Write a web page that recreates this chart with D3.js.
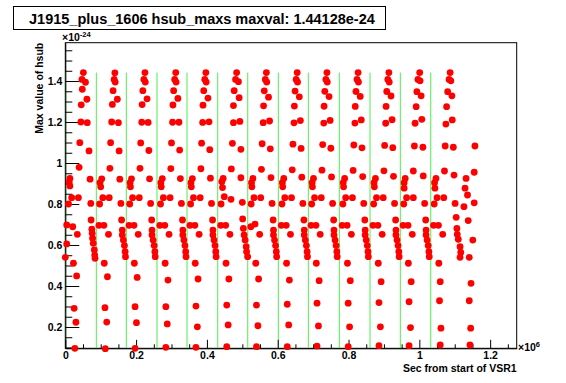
<!DOCTYPE html>
<html><head><meta charset="utf-8">
<script src="https://cdn.jsdelivr.net/npm/d3@7"></script>
<style>body{margin:0;background:#fff}svg{display:block}</style>
</head><body>
<svg id="c" width="566" height="383"></svg>
<script>
const titleText = "J1915_plus_1606 hsub_maxs maxval: 1.44128e-24";
const xTitle = "Sec from start of VSR1";
const yTitle = "Max value of hsub";
const xMajor = [0, 0.2, 0.4, 0.6, 0.8, 1.0, 1.2];
const xLabels = ["0", "0.2", "0.4", "0.6", "0.8", "1", "1.2"];
const yMajor = [0.2, 0.4, 0.6, 0.8, 1.0, 1.2, 1.4];
const yLabels = ["0.2", "0.4", "0.6", "0.8", "1", "1.2", "1.4"];
const maxval = 1.44128;
// day boundary lines (x in units of 1e6 s)
const dayLines = [0.0011, 0.0876, 0.1723, 0.2590, 0.3438, 0.4305, 0.5153, 0.6017, 0.6864, 0.7740, 0.8607, 0.9463, 1.0322];
// points [sec/1e6, value/1e-24], one array per day
const day00 = [[.004,.605],[.000,.540]];
const day01 = [[.051,1.441],[.047,1.408],[.057,1.394],[.048,1.360],[.061,1.311],[.045,1.284],[.044,1.200],[.062,1.197],[.041,1.099],[.067,1.059],[.039,.979],[.013,.925],[.070,.921],[.011,.907],[.013,.888],[.018,.831],[.037,.831],[.009,.800],[.072,.803],[.004,.698],[.021,.689],[.073,.722],[.034,.652],[.075,.677],[.076,.657],[.077,.633],[.079,.608],[.082,.576],[.083,.551],[.084,.535],[.023,.511],[.032,.449],[.025,.291],[.030,.223],[.027,.096]];
const day02 = [[.140,1.440],[.138,1.408],[.141,1.395],[.135,1.353],[.147,1.311],[.133,1.286],[.131,1.200],[.150,1.197],[.128,1.099],[.152,1.059],[.126,.974],[.103,.923],[.154,.921],[.098,.904],[.100,.884],[.106,.831],[.124,.831],[.097,.800],[.157,.803],[.095,.696],[.109,.696],[.159,.722],[.122,.652],[.161,.673],[.161,.649],[.164,.624],[.167,.597],[.169,.567],[.170,.543],[.110,.511],[.119,.445],[.112,.294],[.117,.224],[.113,.094]];
const day03 = [[.225,1.441],[.222,1.408],[.226,1.395],[.219,1.353],[.231,1.313],[.217,1.285],[.216,1.199],[.234,1.198],[.213,1.098],[.236,1.061],[.211,.974],[.187,.923],[.238,.923],[.183,.904],[.184,.884],[.190,.831],[.209,.831],[.182,.800],[.241,.803],[.180,.696],[.194,.696],[.244,.722],[.206,.652],[.245,.673],[.245,.649],[.248,.624],[.251,.597],[.253,.567],[.254,.543],[.195,.511],[.203,.442],[.197,.299],[.201,.221],[.197,.096]];
const day04 = [[.312,1.441],[.309,1.408],[.313,1.395],[.306,1.353],[.318,1.315],[.304,1.283],[.303,1.199],[.321,1.199],[.300,1.098],[.323,1.063],[.298,.973],[.274,.924],[.325,.924],[.270,.904],[.271,.884],[.277,.831],[.296,.831],[.269,.800],[.328,.803],[.267,.696],[.281,.696],[.331,.722],[.293,.652],[.332,.673],[.332,.649],[.335,.624],[.338,.597],[.340,.567],[.341,.543],[.282,.511],[.290,.429],[.284,.299],[.288,.215],[.284,.101]];
const day05 = [[.397,1.441],[.394,1.408],[.398,1.395],[.391,1.353],[.403,1.317],[.389,1.282],[.388,1.198],[.406,1.201],[.385,1.097],[.408,1.065],[.383,.972],[.359,.924],[.410,.926],[.355,.904],[.356,.884],[.362,.831],[.381,.831],[.354,.800],[.413,.803],[.352,.696],[.366,.696],[.416,.722],[.378,.652],[.417,.673],[.417,.649],[.420,.624],[.423,.597],[.425,.567],[.426,.543],[.367,.511],[.375,.434],[.369,.302],[.373,.201],[.369,.101]];
const day06 = [[.484,1.441],[.481,1.408],[.489,1.397],[.477,1.353],[.491,1.319],[.475,1.280],[.475,1.197],[.493,1.203],[.472,1.096],[.496,1.067],[.469,.971],[.446,.925],[.496,.928],[.442,.909],[.444,.880],[.449,.836],[.468,.823],[.440,.800],[.500,.808],[.439,.696],[.453,.696],[.501,.727],[.465,.652],[.503,.681],[.505,.649],[.508,.624],[.511,.592],[.512,.567],[.515,.543],[.454,.511],[.462,.434],[.456,.307],[.460,.210],[.456,.104]];
const day07 = [[.568,1.441],[.565,1.408],[.569,1.395],[.562,1.352],[.574,1.321],[.560,1.279],[.559,1.197],[.577,1.205],[.556,1.094],[.579,1.069],[.554,.969],[.530,.925],[.581,.929],[.526,.904],[.527,.884],[.533,.831],[.552,.831],[.525,.800],[.584,.803],[.524,.689],[.536,.702],[.587,.722],[.549,.652],[.588,.673],[.588,.649],[.591,.624],[.594,.597],[.596,.567],[.597,.543],[.538,.511],[.546,.434],[.540,.307],[.544,.206],[.540,.104]];
const day08 = [[.655,1.441],[.652,1.408],[.656,1.395],[.649,1.351],[.661,1.323],[.647,1.278],[.646,1.196],[.664,1.207],[.643,1.092],[.666,1.071],[.641,.967],[.617,.925],[.668,.931],[.613,.904],[.614,.884],[.620,.831],[.639,.831],[.612,.800],[.671,.803],[.610,.696],[.624,.696],[.674,.722],[.636,.652],[.675,.673],[.675,.649],[.678,.624],[.681,.597],[.683,.567],[.684,.543],[.625,.511],[.633,.429],[.627,.311],[.631,.210],[.627,.104]];
const day09 = [[.739,1.441],[.736,1.408],[.740,1.395],[.733,1.350],[.745,1.324],[.731,1.277],[.730,1.195],[.748,1.208],[.727,1.090],[.750,1.072],[.725,.965],[.701,.925],[.752,.932],[.697,.904],[.698,.884],[.704,.831],[.723,.831],[.696,.800],[.755,.803],[.694,.696],[.708,.696],[.758,.722],[.720,.652],[.759,.673],[.759,.649],[.762,.624],[.765,.597],[.767,.567],[.768,.543],[.709,.511],[.717,.426],[.711,.316],[.715,.205],[.711,.107]];
const day10 = [[.827,1.441],[.824,1.408],[.828,1.395],[.821,1.349],[.833,1.325],[.819,1.276],[.818,1.195],[.836,1.210],[.815,1.088],[.838,1.074],[.813,.964],[.789,.925],[.840,.934],[.785,.904],[.786,.884],[.792,.831],[.811,.831],[.784,.800],[.843,.803],[.782,.696],[.796,.696],[.846,.722],[.808,.652],[.847,.673],[.847,.649],[.850,.624],[.853,.597],[.855,.567],[.856,.543],[.797,.511],[.805,.426],[.799,.316],[.803,.201],[.799,.104]];
const day11 = [[.914,1.441],[.911,1.408],[.915,1.395],[.908,1.349],[.920,1.327],[.906,1.276],[.905,1.194],[.923,1.211],[.902,1.086],[.925,1.075],[.900,.962],[.876,.925],[.927,.935],[.872,.904],[.873,.884],[.879,.831],[.898,.831],[.871,.800],[.930,.803],[.869,.696],[.883,.696],[.933,.722],[.895,.652],[.934,.673],[.934,.649],[.937,.624],[.940,.597],[.942,.567],[.943,.543],[.884,.511],[.892,.421],[.886,.319],[.890,.201],[.886,.109]];
const day12 = [[1.001,1.441],[.996,1.408],[1.002,1.401],[.993,1.348],[1.005,1.328],[.991,1.275],[.988,1.194],[1.007,1.213],[.986,1.083],[1.010,1.077],[.983,.961],[.960,.925],[1.011,.937],[.957,.904],[.957,.877],[.964,.831],[.983,.831],[.956,.800],[1.015,.803],[.954,.696],[.968,.696],[1.018,.722],[.980,.652],[1.019,.673],[1.019,.649],[1.022,.624],[1.025,.597],[1.027,.567],[1.028,.543],[.969,.511],[.977,.421],[.971,.323],[.975,.197],[.971,.109]];
const day13 = [[1.087,1.441],[1.084,1.408],[1.089,1.401],[1.080,1.348],[1.092,1.328],[1.077,1.275],[1.075,1.190],[1.093,1.210],[1.073,1.083],[1.096,1.077],[1.071,.961],[1.047,.925],[1.098,.941],[1.043,.904],[1.044,.877],[1.050,.831],[1.069,.831],[1.042,.800],[1.101,.803],[1.040,.696],[1.054,.696],[1.104,.735],[1.066,.652],[1.106,.681],[1.107,.652],[1.110,.628],[1.115,.592],[1.117,.564],[1.115,.540],[1.055,.511],[1.059,.421],[1.057,.328],[1.061,.194],[1.059,.112]];
const day14 = [[1.157,1.083],[1.155,.955],[1.132,.925],[1.129,.877],[1.136,.844],[1.126,.787],[1.155,.806],[1.138,.719],[1.151,.624],[1.141,.540],[1.146,.413],[1.141,.328],[1.145,.194],[1.143,.112]];
const allDays = [day00, day01, day02, day03, day04, day05, day06, day07, day08, day09, day10, day11, day12, day13, day14];

const svg = d3.select("#c");
const L = 65.3, R = 516.7, T = 42.7, B = 348.3;
const x = d3.scaleLinear().domain([0, 1.275]).range([L, R]);
const y = d3.scaleLinear().domain([0.096, 1.587]).range([B, T]);
const font = "'Liberation Sans', Arial, Helvetica, sans-serif";
const pts = allDays.flat();

svg.append("rect").attr("x", L).attr("y", T).attr("width", R - L).attr("height", B - T)
  .attr("fill", "none").attr("stroke", "#000").attr("stroke-width", 1);

svg.append("clipPath").attr("id", "clipf").append("rect").attr("x", L).attr("y", T).attr("width", R - L).attr("height", B - T);
svg.append("g").attr("clip-path", "url(#clipf)").selectAll("line").data(dayLines).join("line")
  .attr("x1", d => x(d)).attr("x2", d => x(d)).attr("y1", y(0)).attr("y2", y(maxval))
  .attr("stroke", "#4def4d").attr("stroke-width", 1);

function styleAxis(g) {
  g.select(".domain").attr("stroke", "#000");
  g.selectAll(".tick line").attr("stroke", "#000");
  g.selectAll("text").attr("font-family", font).attr("font-weight", "bold").attr("font-size", "10.5px").attr("fill", "#000");
}
const xMinor = d3.range(0.05, 1.2751, 0.05).filter(v => Math.abs(v * 5 - Math.round(v * 5)) > 1e-6);
const yMinor = d3.range(0.1, 1.58, 0.05).filter(v => Math.abs(v * 5 - Math.round(v * 5)) > 1e-6);
svg.append("g").attr("transform", `translate(0,${B})`)
  .call(d3.axisBottom(x).tickValues(xMinor).tickSize(-4).tickFormat(""))
  .call(g => { g.select(".domain").remove(); g.selectAll("line").attr("stroke", "#000"); });
svg.append("g").attr("transform", `translate(0,${B})`)
  .call(d3.axisBottom(x).tickValues(xMajor).tickSizeInner(-8.5).tickSizeOuter(0).tickPadding(3)
    .tickFormat((d, i) => xLabels[i]))
  .call(styleAxis);
svg.append("g").attr("transform", `translate(${L},0)`)
  .call(d3.axisLeft(y).tickValues(yMinor).tickSize(-7).tickFormat(""))
  .call(g => { g.select(".domain").remove(); g.selectAll("line").attr("stroke", "#000"); });
svg.append("g").attr("transform", `translate(${L},0)`)
  .call(d3.axisLeft(y).tickValues(yMajor).tickSizeInner(-14).tickSizeOuter(0).tickPadding(3)
    .tickFormat((d, i) => yLabels[i]))
  .call(styleAxis);

svg.append("g").selectAll("circle").data(pts).join("circle")
  .attr("cx", d => x(d[0])).attr("cy", d => y(d[1])).attr("r", 3.4).attr("fill", "#ff0000");

const e1 = svg.append("text").attr("x", 62).attr("y", 41).attr("font-family", font).attr("font-size", "10.5px").attr("font-weight", "bold");
e1.append("tspan").text("×10");
e1.append("tspan").attr("dy", -4).attr("font-size", "7.5px").text("-24");
const e2 = svg.append("text").attr("x", 518).attr("y", 351).attr("font-family", font).attr("font-size", "10.5px").attr("font-weight", "bold");
e2.append("tspan").text("×10");
e2.append("tspan").attr("dy", -4).attr("font-size", "7.5px").text("6");

svg.append("text").attr("x", R).attr("y", 372).attr("text-anchor", "end").attr("font-family", font)
  .attr("font-size", "10.5px").attr("font-weight", "bold").text(xTitle);
svg.append("text").attr("transform", `translate(43,${T}) rotate(-90)`).attr("text-anchor", "end").attr("font-family", font)
  .attr("font-size", "10.5px").attr("font-weight", "bold").text(yTitle);

svg.append("rect").attr("x", 13.5).attr("y", 6.5).attr("width", 372).attr("height", 23).attr("fill", "#fff").attr("stroke", "#000");
svg.append("text").attr("x", 29).attr("y", 24).attr("font-family", font).attr("font-size", "14.5px").attr("font-weight", "bold").text(titleText);
</script>
</body></html>
